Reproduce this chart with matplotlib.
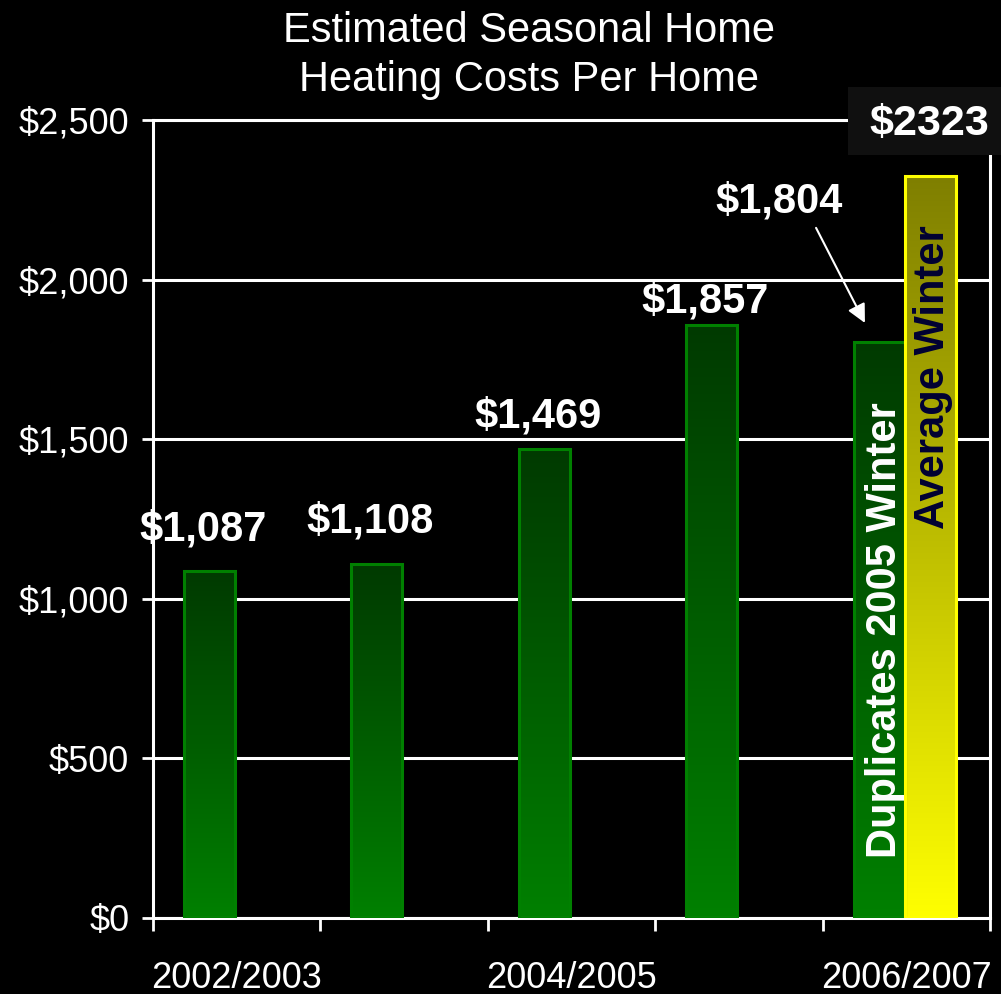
import matplotlib
matplotlib.use('Agg')
import matplotlib.pyplot as plt
import numpy as np
from matplotlib.colors import LinearSegmentedColormap
from matplotlib.patches import Rectangle
from matplotlib.ticker import FixedLocator, StrMethodFormatter

plt.rcParams['font.family'] = ['Liberation Sans', 'DejaVu Sans']

seasons = ['2002/2003', '2003/2004', '2004/2005', '2005/2006', '2006/2007']
costs = [1087, 1108, 1469, 1857, 1804]
avg_winter = 2323
shown_labels = ['2002/2003', '', '2004/2005', '', '2006/2007']

# baseline heights of the value labels (data units)
label_y = [1184, 1209, 1538, 1898, 2209]
label_dx = [-0.05, -0.05, -0.05, -0.05, -0.61]

green_cmap = LinearSegmentedColormap.from_list('grn', ['#003a00', '#008000'])
yellow_cmap = LinearSegmentedColormap.from_list('yel', ['#7f7f00', '#ffff00'])
ramp = np.linspace(0, 1, 256).reshape(-1, 1)


def gradient_bar(ax, x, width, height, cmap, edge):
    ax.imshow(ramp, cmap=cmap, extent=[x - width / 2, x + width / 2, 0, height],
              aspect='auto', origin='upper', zorder=2, interpolation='bilinear')
    ax.add_patch(Rectangle((x - width / 2, 0), width, height, fill=False,
                           edgecolor=edge, linewidth=2.2, zorder=3))


fig = plt.figure(figsize=(10.01, 9.94), dpi=100, facecolor='black')
ax = fig.add_axes([0.1528, 0.0765, 0.8362, 0.8028])
ax.set_facecolor('black')

w = 0.305
x = np.arange(len(seasons))
for i, c in enumerate(costs):
    gradient_bar(ax, x[i] - w / 2 - 0.01, w, c, green_cmap, '#008000')
gradient_bar(ax, x[-1] + w / 2 - 0.01, w, avg_winter, yellow_cmap, '#ffff00')

ax.set_xlim(-0.5, len(seasons) - 0.5)
ax.set_ylim(0, 2500)

# value labels
for i, c in enumerate(costs):
    ax.text(x[i] - w / 2 + label_dx[i], label_y[i], f'${c:,}', color='white',
            fontsize=30, fontweight='bold', ha='center', va='baseline', zorder=5)

ax.annotate('', xy=(3.753, 1864), xytext=(3.461, 2162),
            arrowprops=dict(arrowstyle='-|>', color='white', lw=1.5,
                            mutation_scale=28, shrinkA=0, shrinkB=0), zorder=5)

ax.text(3.875, 188, 'Duplicates 2005 Winter', rotation=90, color='white',
        fontsize=30, fontweight='bold', ha='center', va='bottom', zorder=5)
ax.text(4.16, 2171, 'Average Winter', rotation=90, color='#000033',
        fontsize=30, fontweight='bold', ha='center', va='top', zorder=5)

# axes styling
ax.yaxis.set_major_locator(FixedLocator([0, 500, 1000, 1500, 2000, 2500]))
ax.yaxis.set_major_formatter(StrMethodFormatter('${x:,.0f}'))
ax.grid(axis='y', color='white', linewidth=2.2, zorder=1)
ax.set_axisbelow(True)
ax.xaxis.set_major_locator(FixedLocator(np.arange(-0.5, len(seasons), 1.0)))
ax.xaxis.set_major_formatter(plt.NullFormatter())
ax.xaxis.set_minor_locator(FixedLocator(x))
ax.set_xticklabels(shown_labels, minor=True)
ax.tick_params(axis='x', which='minor', length=0, pad=31, labelsize=26, labelcolor='white')
ax.tick_params(axis='x', which='major', length=9, width=2, color='white', direction='out')
ax.tick_params(axis='y', length=8, width=2, color='white', direction='out',
               pad=9, labelsize=26, labelcolor='white')
for s in ['left', 'bottom', 'right', 'top']:
    ax.spines[s].set_color('white')
    ax.spines[s].set_linewidth(2.2)

# title
fig.text(0.528, 0.969, 'Estimated Seasonal Home', color='white', fontsize=30,
         ha='center', va='center')
fig.text(0.528, 0.920, 'Heating Costs Per Home', color='white', fontsize=30,
         ha='center', va='center')

# highlighted total
fig.patches.append(Rectangle((848 / 1001, 1 - 155 / 994), 1 - 848 / 1001, 68 / 994,
                             transform=fig.transFigure, facecolor='#101010',
                             edgecolor='none', zorder=5))
fig.text(929 / 1001, 1 - 135 / 994, f'${avg_winter}', color='white', fontsize=31,
         fontweight='bold', ha='center', va='baseline', zorder=6)

fig.savefig('out.png', dpi=100, facecolor='black')
